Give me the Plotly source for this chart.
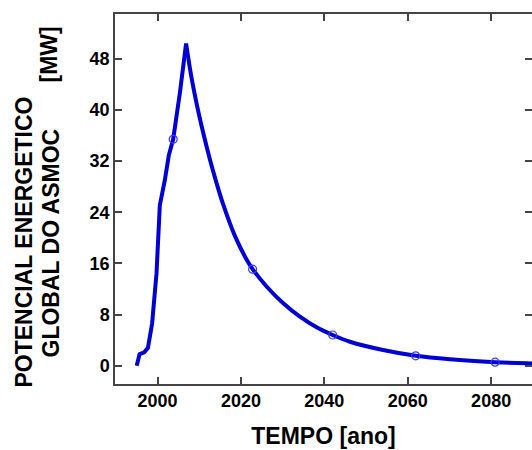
import plotly.graph_objects as go

# Data
years = [1995.0, 1995.7, 1996.8, 1997.7, 1998.7, 1999.75, 2000.55, 2001.75, 2002.7,
         2003.75, 2005.35, 2006.85, 2008.0, 2009.5, 2011.0, 2012.5, 2014.0, 2015.6,
         2018.55, 2021.7, 2022.8, 2026.2, 2030.15, 2034.15, 2038.15, 2042.0, 2046.15,
         2054.1, 2061.9, 2070.15, 2080.95, 2088.55, 2095.0]
power = [0.0, 1.8, 2.1, 2.8, 6.6, 14.4, 25.1, 29.0, 32.9,
         35.4, 42.6, 50.4, 45.6, 40.6, 36.3, 32.4, 28.9, 25.5,
         20.3, 16.2, 15.1, 12.35, 9.76, 7.66, 6.0, 4.8, 3.75,
         2.45, 1.55, 1.0, 0.55, 0.37, 0.3]
peak_index = 11

marker_years = [2003.75, 2022.8, 2042.0, 2061.9, 2080.95]
marker_power = [35.4, 15.1, 4.8, 1.55, 0.55]

x_ticks = [2000, 2020, 2040, 2060, 2080]
y_ticks = [0, 8, 16, 24, 32, 40, 48]

x_title = "TEMPO [ano]"
y_title_1 = "POTENCIAL ENERGETICO"
y_title_2 = "GLOBAL DO ASMOC"
y_unit = "[MW]"

FONT = "Liberation Sans, Arial, sans-serif"
BLUE = "#0000d4"
AX = "#444444"

fig = go.Figure()
# rising part (piecewise linear)
fig.add_trace(go.Scatter(x=years[:peak_index + 1], y=power[:peak_index + 1], mode="lines",
                         line=dict(color=BLUE, width=4), showlegend=False))
# decaying part (smooth)
fig.add_trace(go.Scatter(x=years[peak_index:], y=power[peak_index:], mode="lines",
                         line=dict(color=BLUE, width=4, shape="spline", smoothing=0.8),
                         showlegend=False))
fig.add_trace(go.Scatter(x=marker_years, y=marker_power, mode="markers",
                         marker=dict(symbol="circle-open", size=8, color="#3a3aff",
                                     line=dict(width=1.2)),
                         showlegend=False))
# invisible trace for the right-side axis ticks
fig.add_trace(go.Scatter(x=[years[0]], y=[power[0]], yaxis="y2", mode="markers",
                         marker=dict(opacity=0), showlegend=False, hoverinfo="skip"))

L, T, B = 115, 14, 66
W, H = 532, 450
pw = W - L
ph = H - T - B

fig.update_layout(
    width=W, height=H,
    margin=dict(l=L, r=0, t=T, b=B, pad=0),
    plot_bgcolor="white", paper_bgcolor="white",
    font=dict(family=FONT, color="black"),
    xaxis=dict(range=[1989.8, 2089.8], tickvals=x_ticks, ticks="inside", ticklen=7,
               tickcolor=AX, tickwidth=1.5, showline=True, linecolor=AX, linewidth=1.5,
               mirror="ticks", showgrid=False, zeroline=False,
               tickfont=dict(size=18, family=FONT, weight="bold"),
               title=dict(text="<b>" + x_title + "</b>", font=dict(size=23, family=FONT),
                          standoff=18)),
    yaxis=dict(range=[-2.86, 55.0], tickvals=y_ticks, ticks="inside", ticklen=7,
               tickcolor=AX, tickwidth=1.5, showline=True, linecolor=AX, linewidth=1.5,
               showgrid=False, zeroline=False,
               tickfont=dict(size=18, family=FONT, weight="bold")),
    yaxis2=dict(range=[-2.86, 55.0], tickvals=y_ticks, ticks="inside", ticklen=7,
                tickcolor=AX, tickwidth=1.5, overlaying="y", side="right",
                showticklabels=False, showline=False, showgrid=False, zeroline=False),
)

def px2x(p):
    return (p - L) / pw

def py2y(p):
    return (H - B - p) / ph

ann_font = dict(size=23, family=FONT, color="black", weight="bold")
fig.add_annotation(text=y_title_1, xref="paper", yref="paper", x=px2x(23), y=py2y(242.5),
                   xanchor="center", yanchor="middle", textangle=-90, showarrow=False,
                   font=ann_font)
fig.add_annotation(text=y_title_2, xref="paper", yref="paper", x=px2x(50), y=py2y(243.5),
                   xanchor="center", yanchor="middle", textangle=-90, showarrow=False,
                   font=ann_font)
fig.add_annotation(text=y_unit, xref="paper", yref="paper", x=px2x(48), y=py2y(54.5),
                   xanchor="center", yanchor="middle", textangle=-90, showarrow=False,
                   font=ann_font)

fig.write_html("out.html", config={"displayModeBar": False},
               post_script="document.body.style.margin='0';")
